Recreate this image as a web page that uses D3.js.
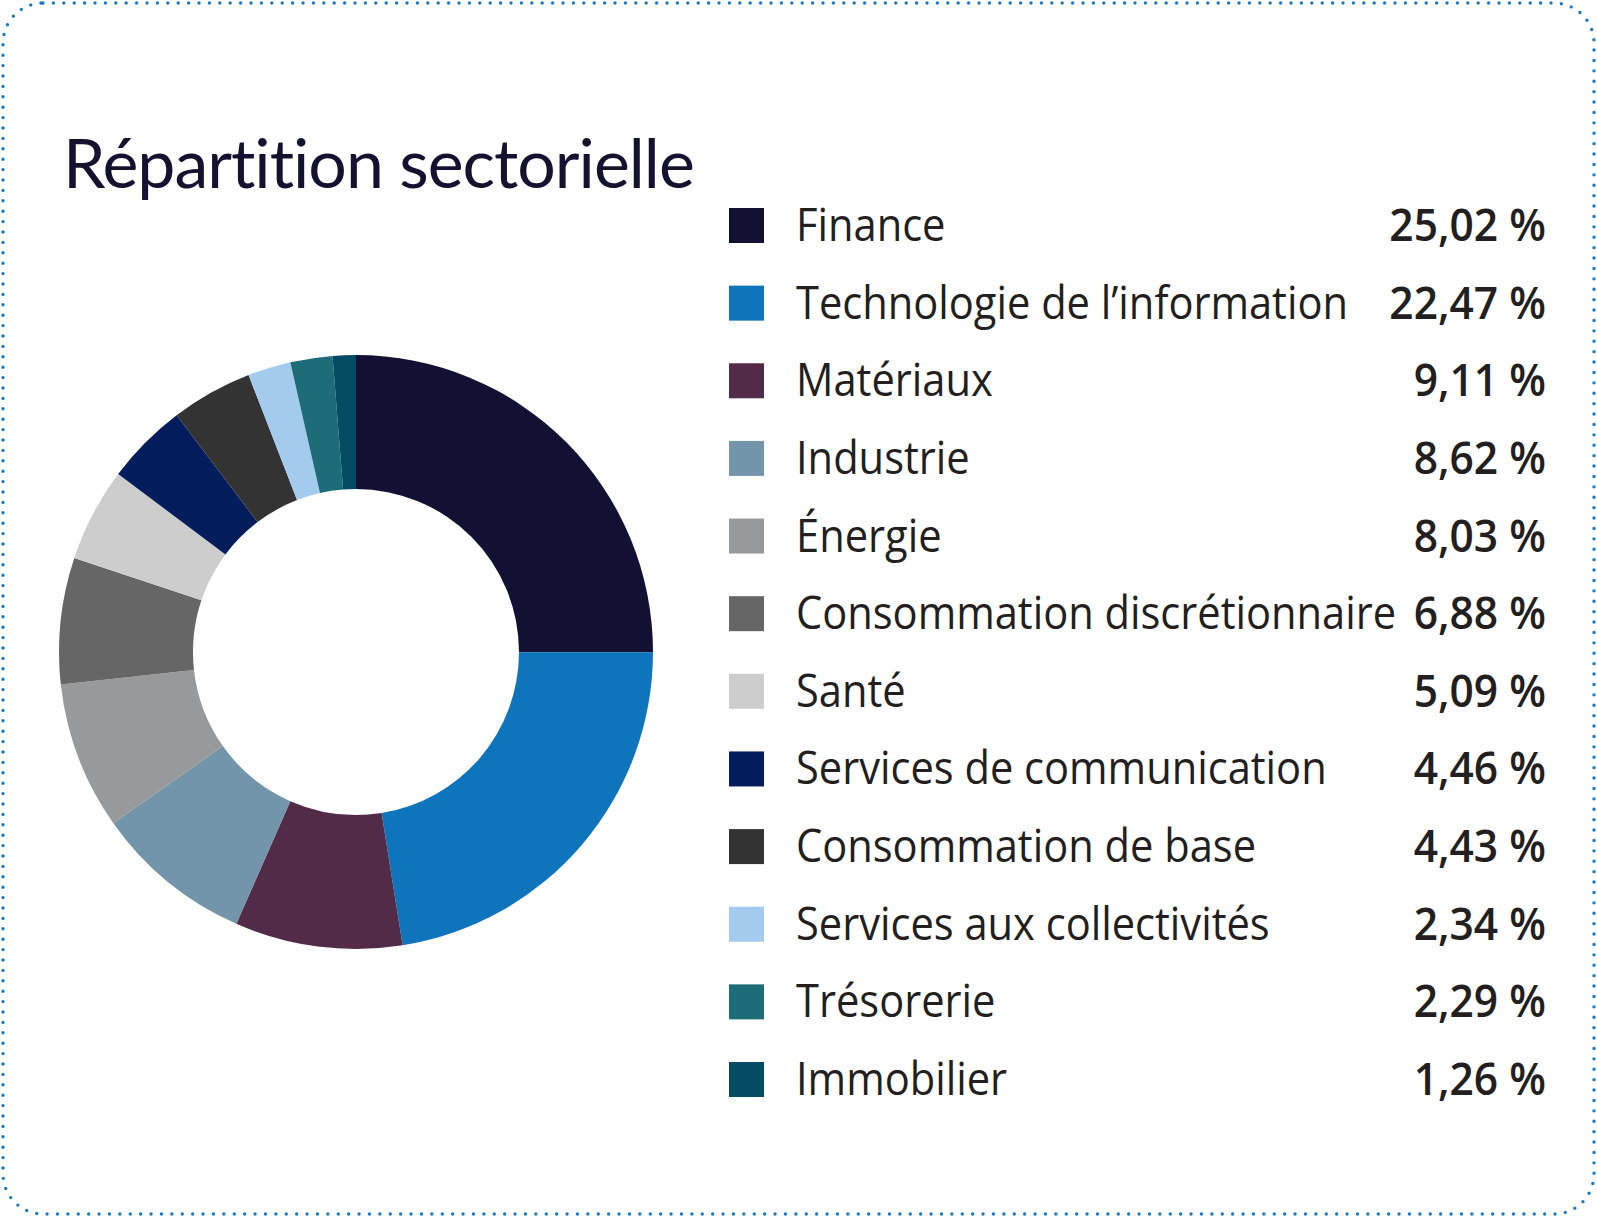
<!DOCTYPE html>
<html>
<head>
<meta charset="utf-8">
<script src="https://cdn.jsdelivr.net/npm/d3@7"></script>
<style>
  body { margin: 0; background: #fff; }
  svg { display: block; }
</style>
</head>
<body>
<svg width="1597" height="1217"></svg>
<script>
// sector weights
var sectors = ["Finance", "Technologie de l\u2019information", "Matériaux", "Industrie", "Énergie",
  "Consommation discrétionnaire", "Santé", "Services de communication", "Consommation de base",
  "Services aux collectivités", "Trésorerie", "Immobilier"];
var weights = [25.02, 22.47, 9.11, 8.62, 8.03, 6.88, 5.09, 4.46, 4.43, 2.34, 2.29, 1.26];
var colours = ["#131133", "#0e74bc", "#522b49", "#7295aa", "#98999b", "#666666",
  "#cdcdcd", "#031d5c", "#333333", "#a3cbee", "#1d6c77", "#044c63"];

var width = 1597;
var height = 1217;

var svg = d3.select('svg');

// dotted frame
svg.append('rect')
  .attr('x', 3).attr('y', 3)
  .attr('width', width - 6).attr('height', height - 6)
  .attr('rx', 40).attr('ry', 40)
  .attr('fill', 'none')
  .attr('stroke', '#1a79c6')
  .attr('stroke-width', 3.4)
  .attr('stroke-linecap', 'round')
  .attr('stroke-dasharray', '0 10.4');

svg.append('text')
  .attr('x', 63)
  .attr('y', 188)
  .attr('fill', '#14122f')
  .style('font-family', 'Lato, "Open Sans", sans-serif')
  .style('font-size', '68px')
  .style('letter-spacing', '-1px')
  .style('font-variant-ligatures', 'none')
  .text('Répartition sectorielle');

// donut
var cx = 356, cy = 652;
var pie = d3.pie().sort(null).value(function (d) { return d; });
var arc = d3.arc().innerRadius(163).outerRadius(297);

svg.append('g')
  .attr('transform', 'translate(' + cx + ',' + cy + ')')
  .selectAll('path')
  .data(pie(weights))
  .enter()
  .append('path')
  .attr('d', arc)
  .attr('fill', function (d, i) { return colours[i]; });

// legend
var rowY = d3.scalePoint().domain(d3.range(sectors.length)).range([225, 1079]);
var fmt = function (v) { return v.toFixed(2).replace('.', ',') + ' %'; };

var rows = svg.append('g').selectAll('g')
  .data(sectors)
  .enter()
  .append('g')
  .attr('transform', function (d, i) { return 'translate(0,' + rowY(i) + ')'; });

rows.append('rect')
  .attr('x', 729).attr('y', -17)
  .attr('width', 35).attr('height', 35)
  .attr('fill', function (d, i) { return colours[i]; });

rows.append('text')
  .attr('transform', 'translate(796,16) scale(0.905,1)')
  .attr('fill', '#231f20')
  .style('font-family', '"Open Sans", sans-serif')
  .style('font-size', '46px')
  .text(function (d) { return d; });

rows.append('text')
  .attr('transform', 'translate(1546,16) scale(0.925,1)')
  .attr('text-anchor', 'end')
  .attr('fill', '#231f20')
  .style('font-family', '"Open Sans", sans-serif')
  .style('font-size', '46px')
  .style('font-weight', 600)
  .text(function (d, i) { return fmt(weights[i]); });
</script>
</body>
</html>
